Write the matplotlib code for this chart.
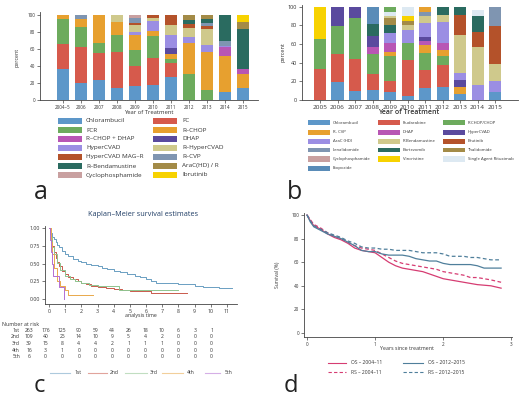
import matplotlib
matplotlib.use("Agg")
import matplotlib.pyplot as plt
from matplotlib.patches import Rectangle
from matplotlib.lines import Line2D

plt.rcParams["font.family"] = ["Open Sans", "DejaVu Sans"]

W, H = 520, 399
TXT = "#333333"

# -------------------------
# Palette
# -------------------------
BLUE = "#5D97C9"
RED = "#D65A4C"
GREEN = "#6DAB5D"
ORANGE = "#E7A02F"
MAGENTA = "#B856B4"
DPURPLE = "#5A4A9E"
LAVENDER = "#9B8EE3"
KHAKI = "#CFC98C"
RUST = "#B4522A"
GRAYBLUE = "#7F95B1"
TEAL = "#2A6B60"
OLIVE = "#A38B47"
PINK = "#C9A0A0"
YELLOW = "#F7D200"
LIGHTBLUE = "#DDE9F2"
STEEL = "#5A8CB8"

# -------------------------
# Panel a data
# -------------------------
years_a = ["2004–5", "2006", "2007", "2008", "2009", "2010",
           "2011", "2012", "2013", "2014", "2015"]
drugs_a = ["Chlorambucil", "FC", "FCR", "R–CHOP", "R–CHOP + DHAP", "DHAP",
           "HyperCVAD", "R–HyperCVAD", "HyperCVAD MAG–R", "R–CVP",
           "R–Bendamustine", "AraC(HD) / R", "Cyclophosphamide", "Ibrutinib"]
colors_a = [BLUE, RED, GREEN, ORANGE, MAGENTA, DPURPLE, LAVENDER, KHAKI,
            RUST, GRAYBLUE, TEAL, OLIVE, PINK, YELLOW]
stacks_a = [
    [("Chlorambucil", 37), ("FC", 29), ("FCR", 29), ("R–CHOP", 5)],
    [("Chlorambucil", 20), ("FC", 42), ("FCR", 24), ("R–CHOP", 9), ("R–CVP", 5)],
    [("Chlorambucil", 24), ("FC", 31), ("FCR", 12), ("R–CHOP", 33)],
    [("Chlorambucil", 14), ("FC", 43), ("FCR", 19), ("R–CHOP", 16), ("R–HyperCVAD", 8)],
    [("Chlorambucil", 16), ("FC", 24), ("FCR", 19), ("R–CHOP", 18), ("HyperCVAD", 3),
     ("R–HyperCVAD", 8), ("HyperCVAD MAG–R", 2), ("R–CVP", 6), ("Cyclophosphamide", 4)],
    [("Chlorambucil", 18), ("FC", 31), ("FCR", 26), ("R–CHOP", 6), ("HyperCVAD", 12),
     ("R–HyperCVAD", 3), ("HyperCVAD MAG–R", 4)],
    [("Chlorambucil", 27), ("FC", 16), ("FCR", 5), ("R–CHOP", 6), ("DHAP", 7),
     ("HyperCVAD", 16), ("R–HyperCVAD", 11), ("HyperCVAD MAG–R", 12)],
    [("FCR", 31), ("R–CHOP", 36), ("HyperCVAD", 7), ("R–HyperCVAD", 11),
     ("HyperCVAD MAG–R", 4), ("R–Bendamustine", 5), ("AraC(HD) / R", 6)],
    [("FCR", 12), ("R–CHOP", 45), ("HyperCVAD", 8), ("R–HyperCVAD", 18),
     ("HyperCVAD MAG–R", 4), ("R–CVP", 4), ("R–Bendamustine", 4), ("AraC(HD) / R", 5)],
    [("Chlorambucil", 9), ("R–CHOP", 43), ("R–CHOP + DHAP", 10), ("HyperCVAD", 2),
     ("R–CVP", 5), ("R–Bendamustine", 31)],
    [("Chlorambucil", 14), ("R–CHOP", 16), ("R–CHOP + DHAP", 7), ("R–Bendamustine", 47),
     ("AraC(HD) / R", 8), ("Ibrutinib", 8)],
]

# -------------------------
# Panel b data
# -------------------------
years_b = ["2005", "2006", "2007", "2008", "2009", "2010",
           "2011", "2012", "2013", "2014", "2015"]
drugs_b = ["Chlorambucil", "Fludarabine", "R-CHOP/CHOP", "R- CVP", "DHAP",
           "HyperCVAD", "AraC (HD)", "R-Bendamustine", "Brutinib", "Lenalidomide",
           "Bortezomib", "Thalidomide", "Cyclophosphamide", "Vincristine",
           "Single Agent Rituximab", "Etoposide"]
colors_b = [BLUE, RED, GREEN, ORANGE, MAGENTA, DPURPLE, LAVENDER, KHAKI, RUST,
            GRAYBLUE, TEAL, OLIVE, PINK, YELLOW, LIGHTBLUE, STEEL]
stacks_b = [
    [("Fludarabine", 33), ("R-CHOP/CHOP", 33), ("Vincristine", 34)],
    [("Chlorambucil", 19), ("Fludarabine", 30), ("R-CHOP/CHOP", 30), ("HyperCVAD", 21)],
    [("Chlorambucil", 10), ("Fludarabine", 34), ("R-CHOP/CHOP", 44), ("HyperCVAD", 12)],
    [("Chlorambucil", 11), ("Fludarabine", 17), ("R-CHOP/CHOP", 21), ("DHAP", 8),
     ("HyperCVAD", 12), ("Bortezomib", 13), ("Etoposide", 18)],
    [("Chlorambucil", 9), ("Fludarabine", 11), ("R-CHOP/CHOP", 27), ("R- CVP", 5),
     ("DHAP", 9), ("AraC (HD)", 11), ("Bortezomib", 9), ("Thalidomide", 7),
     ("R-Bendamustine", 2), ("Single Agent Rituximab", 4), ("R-CHOP/CHOP", 6)],
    [("Chlorambucil", 4), ("Fludarabine", 39), ("R-CHOP/CHOP", 18), ("AraC (HD)", 14),
     ("R-Bendamustine", 5), ("Thalidomide", 5), ("Vincristine", 5),
     ("Single Agent Rituximab", 10)],
    [("Chlorambucil", 13), ("Fludarabine", 19), ("R-CHOP/CHOP", 18), ("R- CVP", 9),
     ("DHAP", 4), ("HyperCVAD", 5), ("AraC (HD)", 15), ("R-Bendamustine", 7),
     ("Lenalidomide", 4), ("R- CVP", 6)],
    [("Chlorambucil", 14), ("Fludarabine", 24), ("R-CHOP/CHOP", 9), ("R- CVP", 7),
     ("DHAP", 7), ("AraC (HD)", 23), ("R-Bendamustine", 7), ("Bortezomib", 9)],
    [("Chlorambucil", 6), ("R- CVP", 8), ("HyperCVAD", 8), ("AraC (HD)", 7),
     ("R-Bendamustine", 41), ("Brutinib", 21), ("Bortezomib", 9)],
    [("AraC (HD)", 16), ("R-Bendamustine", 41), ("Brutinib", 16), ("Bortezomib", 17),
     ("Single Agent Rituximab", 7)],
    [("Chlorambucil", 9), ("AraC (HD)", 11), ("R-Bendamustine", 19), ("Brutinib", 40),
     ("Lenalidomide", 21)],
]

# -------------------------
# Panel c data (Kaplan-Meier)
# -------------------------
km_labels = ["1st", "2nd", "3rd", "4th", "5th"]
km_colors = ["#6A9FC2", "#C95A4C", "#8FC48F", "#E9A94A", "#B36ED2"]
km_t_1st = [0, 0.05, 0.1, 0.2, 0.3, 0.4, 0.5, 0.6, 0.8, 1.0, 1.2, 1.5, 1.8, 2.0, 2.3,
            2.6, 3.0, 3.3, 3.6, 4.0, 4.4, 4.8, 5.0, 5.3, 5.6, 6.0, 6.3, 6.6, 7.0, 7.5,
            8.0, 8.5, 9.0, 9.5, 10.0, 10.5, 11.0, 11.3]
km_s_1st = [1.0, 0.97, 0.93, 0.88, 0.84, 0.80, 0.76, 0.73, 0.68, 0.64, 0.61, 0.57, 0.54,
            0.52, 0.50, 0.48, 0.46, 0.44, 0.42, 0.40, 0.38, 0.36, 0.35, 0.33, 0.31, 0.28,
            0.25, 0.23, 0.22, 0.22, 0.21, 0.21, 0.19, 0.17, 0.17, 0.16, 0.15, 0.15]
km_t_2nd = [0, 0.05, 0.1, 0.2, 0.3, 0.4, 0.5, 0.6, 0.8, 1.0, 1.2, 1.5, 1.8, 2.0, 2.3,
            2.6, 3.0, 3.5, 4.0, 4.5, 5.0, 6.0, 6.3, 7.0, 8.0, 8.5]
km_s_2nd = [1.0, 0.92, 0.85, 0.75, 0.66, 0.58, 0.52, 0.47, 0.40, 0.35, 0.31, 0.28, 0.25,
            0.23, 0.21, 0.19, 0.17, 0.15, 0.14, 0.13, 0.12, 0.11, 0.09, 0.09, 0.08, 0.08]
km_t_3rd = [0, 0.1, 0.2, 0.3, 0.5, 0.7, 1.0, 1.3, 1.6, 2.0, 2.5, 3.0, 4.3, 5.0, 8.0]
km_s_3rd = [1.0, 0.87, 0.74, 0.64, 0.51, 0.41, 0.33, 0.28, 0.26, 0.23, 0.20, 0.18, 0.13,
            0.13, 0.13]
km_t_4th = [0, 0.1, 0.2, 0.3, 0.5, 0.7, 1.0, 1.2, 2.7]
km_s_4th = [1.0, 0.81, 0.63, 0.44, 0.25, 0.19, 0.13, 0.06, 0.06]
km_t_5th = [0, 0.05, 0.1, 0.18, 0.27, 0.64, 0.95]
km_s_5th = [1.0, 0.83, 0.67, 0.5, 0.33, 0.17, 0.0]

risk_times = list(range(12))
risk_1st = [263, 176, 125, 90, 59, 44, 26, 18, 10, 6, 3, 1]
risk_2nd = [109, 40, 25, 14, 10, 9, 5, 4, 2, 0, 0, 0]
risk_3rd = [39, 15, 8, 4, 4, 2, 1, 1, 1, 0, 0, 0]
risk_4th = [16, 3, 1, 0, 0, 0, 0, 0, 0, 0, 0, 0]
risk_5th = [6, 0, 0, 0, 0, 0, 0, 0, 0, 0, 0, 0]

# -------------------------
# Panel d data (OS / RS)
# -------------------------
d_time = [0, 0.05, 0.1, 0.2, 0.3, 0.4, 0.5, 0.6, 0.7, 0.8, 0.9, 1.0, 1.1, 1.2, 1.3,
          1.4, 1.5, 1.6, 1.7, 1.8, 1.9, 2.0, 2.1, 2.2, 2.3, 2.4, 2.5, 2.6, 2.7, 2.85]
os_early = [100, 95, 91, 88, 84, 81, 79, 76, 72, 70, 69, 68, 64, 60, 57, 55, 54, 53,
            52, 50, 48, 46, 45, 44, 43, 42, 41, 40.5, 40, 38]
rs_early = [100, 96, 92, 89, 85, 82, 80, 77, 74, 72, 71, 70, 67, 64, 61, 59, 58, 57,
            56, 55, 54, 52, 51, 50, 49, 47, 47, 46, 45, 43]
os_late = [100, 94, 90, 87, 84, 82, 80, 77, 74, 70, 69, 69, 67, 66, 66, 66, 65, 63,
           62, 61, 61, 59, 58, 58, 58, 58, 57, 55, 55, 55]
rs_late = [100, 95, 91, 88, 85, 83, 81, 78, 76, 73, 72, 72, 71, 71, 70, 70, 70, 69,
           68, 68, 68, 67, 65, 65, 65, 64, 64, 63, 62, 62]
PINKLINE = "#D63C72"
BLUELINE = "#4F7F9B"


# -------------------------
# Helpers
# -------------------------
def px_axes(fig, x0, y0, x1, y1):
    return fig.add_axes([x0 / W, 1 - y1 / H, (x1 - x0) / W, (y1 - y0) / H])


def ftext(fig, x, y, s, **kw):
    kw.setdefault("color", TXT)
    fig.text(x / W, 1 - y / H, s, **kw)


def style_axes(ax, fs):
    for side in ["top", "right"]:
        ax.spines[side].set_visible(False)
    for side in ["left", "bottom"]:
        ax.spines[side].set_linewidth(0.6)
        ax.spines[side].set_color("#444444")
    ax.tick_params(length=2, width=0.5, pad=1.5, labelsize=fs, colors="#444444",
                   labelcolor=TXT)


def stacked_bars(ax, stacks, drugs, colors, width):
    cmap = dict(zip(drugs, colors))
    for i, segs in enumerate(stacks):
        bottom = 0
        for name, val in segs:
            ax.bar(i, val, width=width, bottom=bottom, color=cmap[name], linewidth=0)
            bottom += val


def patch_legend(fig, labels, colors, col_x, text_x, row_y, pw, ph, fs):
    ncol = len(col_x)
    for k, (lab, c) in enumerate(zip(labels, colors)):
        r, cidx = divmod(k, ncol)
        x0, y = col_x[cidx], row_y[r]
        fig.add_artist(Rectangle((x0 / W, 1 - (y + ph / 2) / H), pw / W, ph / H,
                                 transform=fig.transFigure, color=c, linewidth=0))
        ftext(fig, text_x[cidx], y, lab, fontsize=fs, va="center", ha="left")


def line_legend(fig, x0, x1, y, color, ls, lab, tx, fs, alpha=1.0):
    fig.add_artist(Line2D([x0 / W, x1 / W], [1 - y / H, 1 - y / H],
                          transform=fig.transFigure, color=color, lw=0.8,
                          linestyle=ls, alpha=alpha))
    ftext(fig, tx, y, lab, fontsize=fs, va="center", ha="left")


fig = plt.figure(figsize=(W / 100, H / 100), dpi=100)

# -------------------------
# Panel a
# -------------------------
ax_a = px_axes(fig, 40, 12, 258, 100)
stacked_bars(ax_a, stacks_a, drugs_a, colors_a, 0.67)
ax_a.set_xlim(-1.28, 10.83)
ax_a.set_ylim(0, 103.5)
ax_a.set_xticks(range(len(years_a)))
ax_a.set_xticklabels(years_a)
ax_a.set_yticks([0, 20, 40, 60, 80, 100])
style_axes(ax_a, 3.3)
ftext(fig, 17, 57, "percent", fontsize=3.8, rotation=90, ha="center", va="center")
ftext(fig, 149, 113, "Year of Treatment", fontsize=4.2, ha="center", va="center")
patch_legend(fig, drugs_a, colors_a, [58, 153], [86, 182],
             [121, 130, 139, 148, 157, 166, 175], 24, 5.5, 4.6)
ftext(fig, 34, 199, "a", fontsize=18, ha="left", va="baseline", color="#222222")

# -------------------------
# Panel b
# -------------------------
ax_b = px_axes(fig, 302, 5, 518, 100)
stacked_bars(ax_b, stacks_b, drugs_b, colors_b, 0.69)
ax_b.set_xlim(-1.03, 11.31)
ax_b.set_ylim(0, 102)
ax_b.set_xticks(range(len(years_b)))
ax_b.set_xticklabels(years_b)
ax_b.set_yticks([0, 20, 40, 60, 80, 100])
style_axes(ax_b, 4.0)
ax_b.tick_params(axis="x", labelsize=4.6)
ftext(fig, 283, 52, "percent", fontsize=4.0, rotation=90, ha="center", va="center")
ftext(fig, 409, 113, "Year of Treatment", fontsize=5.0, ha="center", va="center",
      fontweight="semibold")
patch_legend(fig, drugs_b, colors_b, [308, 378, 443], [333, 403, 468],
             [122.5, 132, 141, 150, 159, 168], 22, 5, 3.1)
ftext(fig, 287, 199, "b", fontsize=18, ha="left", va="baseline", color="#222222")

# -------------------------
# Panel c
# -------------------------
ax_c = px_axes(fig, 45, 226, 237, 304)
km_t = [km_t_1st, km_t_2nd, km_t_3rd, km_t_4th, km_t_5th]
km_s = [km_s_1st, km_s_2nd, km_s_3rd, km_s_4th, km_s_5th]
for t, s, c in zip(km_t, km_s, km_colors):
    ax_c.step(t, s, where="post", color=c, lw=0.7)
ax_c.set_xlim(-0.25, 11.62)
ax_c.set_ylim(-0.07, 1.03)
ax_c.set_xticks(risk_times)
ax_c.set_yticks([0, 0.25, 0.5, 0.75, 1.0])
ax_c.set_yticklabels(["0.00", "0.25", "0.50", "0.75", "1.00"])
style_axes(ax_c, 3.8)
ftext(fig, 143, 215, "Kaplan–Meier survival estimates", fontsize=5.2, ha="center",
      va="center", color="#1E3C64")
ftext(fig, 141, 315, "analysis time", fontsize=3.8, ha="center", va="center")
ftext(fig, 2, 324, "Number at risk", fontsize=3.8, ha="left", va="center")
risks = [risk_1st, risk_2nd, risk_3rd, risk_4th, risk_5th]
row_y = [330.5, 337, 343.7, 350.5, 357]
for lab, row, y in zip(km_labels, risks, row_y):
    ftext(fig, 20, y, lab, fontsize=3.6, ha="right", va="center")
    for i, n in enumerate(row):
        ftext(fig, 29 + 16.6 * i, y, str(n), fontsize=3.6, ha="center", va="center")
leg_c = [(50, 70, 75), (88, 107, 110), (125, 147, 150), (162, 183, 187), (205, 220, 225)]
for (x0, x1, tx), lab, c in zip(leg_c, km_labels, km_colors):
    line_legend(fig, x0, x1, 373, c, "-", lab, tx, 3.6, alpha=0.55)
ftext(fig, 34, 392, "c", fontsize=17, ha="left", va="baseline", color="#222222")

# -------------------------
# Panel d
# -------------------------
ax_d = px_axes(fig, 304, 213, 512, 337)
ax_d.plot(d_time, os_early, color=PINKLINE, lw=0.9)
ax_d.plot(d_time, rs_early, color=PINKLINE, lw=0.9, ls=(0, (3, 2)))
ax_d.plot(d_time, os_late, color=BLUELINE, lw=0.9)
ax_d.plot(d_time, rs_late, color=BLUELINE, lw=0.9, ls=(0, (3, 2)))
ax_d.set_xlim(-0.044, 3.01)
ax_d.set_ylim(-3.4, 101.7)
ax_d.set_xticks([0, 1, 2, 3])
ax_d.set_yticks([0, 20, 40, 60, 80, 100])
style_axes(ax_d, 3.3)
ftext(fig, 278, 275, "Survival (%)", fontsize=3.6, rotation=90, ha="center", va="center")
ftext(fig, 407, 349, "Years since treatment", fontsize=3.8, ha="center", va="center")
line_legend(fig, 328, 346, 363, PINKLINE, "-", "OS – 2004–11", 351, 3.6)
line_legend(fig, 403, 423, 363, BLUELINE, "-", "OS – 2012–2015", 428, 3.6)
line_legend(fig, 328, 346, 372, PINKLINE, (0, (3, 2)), "RS – 2004–11", 351, 3.6)
line_legend(fig, 403, 423, 372, BLUELINE, (0, (3, 2)), "RS – 2012–2015", 428, 3.6)
ftext(fig, 284, 392, "d", fontsize=17, ha="left", va="baseline", color="#222222")

fig.savefig("out.png", dpi=100)
